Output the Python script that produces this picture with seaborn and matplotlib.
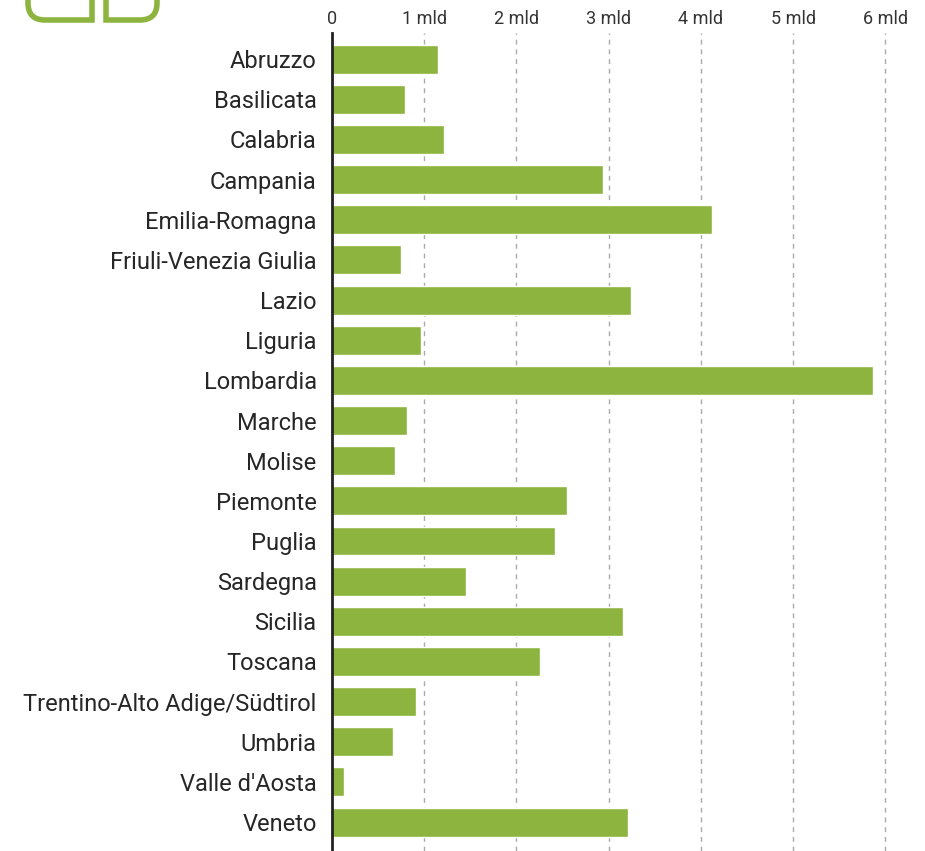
import matplotlib
matplotlib.use("Agg")
import matplotlib.pyplot as plt
import matplotlib.transforms as mtransforms
import seaborn as sns
import pandas as pd
from matplotlib.path import Path
from matplotlib.patches import PathPatch

regioni = ["Abruzzo", "Basilicata", "Calabria", "Campania", "Emilia-Romagna",
           "Friuli-Venezia Giulia", "Lazio", "Liguria", "Lombardia", "Marche",
           "Molise", "Piemonte", "Puglia", "Sardegna", "Sicilia", "Toscana",
           "Trentino-Alto Adige/Südtirol", "Umbria", "Valle d'Aosta", "Veneto"]
# miliardi
valori = [1.15, 0.79, 1.21, 2.94, 4.12, 0.75, 3.24, 0.97, 5.87, 0.81,
          0.68, 2.55, 2.42, 1.45, 3.16, 2.26, 0.91, 0.66, 0.13, 3.21]
tick_valori = [0, 1, 2, 3, 4, 5, 6]
tick_label = ["0", "1 mld", "2 mld", "3 mld", "4 mld", "5 mld", "6 mld"]

verde = "#8db43e"

df = pd.DataFrame({"regione": regioni, "valore": valori})

sns.set_theme(style="white")
plt.rcParams["font.family"] = ["Roboto", "DejaVu Sans"]

W, H = 925, 851
fig = plt.figure(figsize=(W / 100, H / 100), dpi=100)
ax = fig.add_axes([332 / W, 0.0, (913 - 332) / W, 1 - 33 / H])

sns.barplot(data=df, x="valore", y="regione", color=verde, width=0.72,
            saturation=1, ax=ax)

ax.set_xlim(0, 6.3)
ax.set_ylim(19.72, -0.65)
ax.set_xlabel("")
ax.set_ylabel("")

ax.xaxis.tick_top()
ax.set_xticks(tick_valori)
ax.set_xticklabels(tick_label, fontsize=13, color="#333333")
ax.tick_params(axis="x", length=0, pad=3.5)
ax.tick_params(axis="y", length=0, pad=11, labelsize=17, labelcolor="#262626")

for v in tick_valori[1:]:
    ax.axvline(v, color="#aaaaaa", linestyle=(0, (3.5, 3.5)), linewidth=1, zorder=0)

for s in ["top", "right", "bottom"]:
    ax.spines[s].set_visible(False)
ax.spines["left"].set_color("#222222")
ax.spines["left"].set_linewidth(2)

# logo tagliato in alto a sinistra (coordinate in pixel, y dall'alto)
px = mtransforms.Affine2D().scale(1 / W, -1 / H).translate(0, 1) + fig.transFigure
r = 17
forma_sx = Path([(28, -10), (28, 20 - r), (28, 20), (28 + r, 20), (92, 20), (92, -10)],
                [Path.MOVETO, Path.LINETO, Path.CURVE3, Path.CURVE3, Path.LINETO, Path.LINETO])
forma_dx = Path([(106, -10), (106, 20), (157 - r, 20), (157, 20), (157, 20 - r), (157, -10)],
                [Path.MOVETO, Path.LINETO, Path.LINETO, Path.CURVE3, Path.CURVE3, Path.LINETO])
for p in [forma_sx, forma_dx]:
    fig.patches.append(PathPatch(p, transform=px, fill=False, edgecolor=verde,
                                 linewidth=4, capstyle="butt", joinstyle="miter"))

fig.savefig("out.png", dpi=100)
